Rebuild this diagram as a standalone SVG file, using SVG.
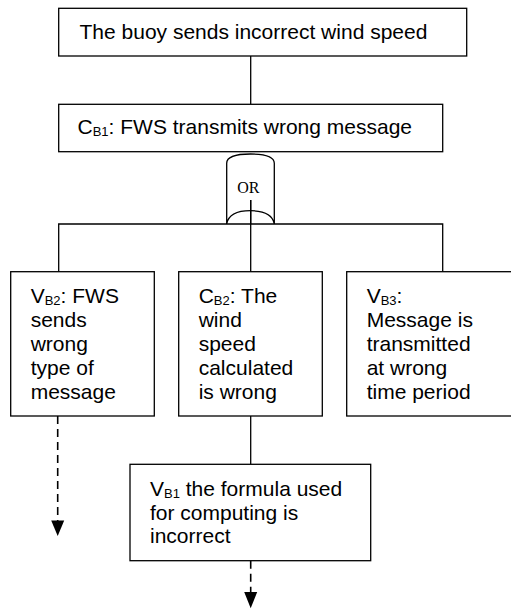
<svg xmlns="http://www.w3.org/2000/svg" width="511" height="611" viewBox="0 0 511 611">
<style>
.box{fill:#fff;stroke:#000;stroke-width:1.3}
.ln{fill:none;stroke:#000;stroke-width:1.3}
.dash{fill:none;stroke:#000;stroke-width:1.6;stroke-dasharray:8 5}
.t{font-family:"Liberation Sans",Arial,sans-serif;font-size:21px;fill:#000}
.sub{font-size:13px}
.or{font-family:"Liberation Serif","Times New Roman",serif;font-size:16px;fill:#000}
.ah{fill:#000}
</style>
<rect width="511" height="611" fill="#fff"/>
<g id="connectors">
<line class="ln" x1="250.7" y1="56" x2="250.7" y2="104.3"/>
<line class="ln" x1="250.7" y1="200" x2="250.7" y2="271.7"/>
<polyline class="ln" points="58.7,271.7 58.7,224 442.7,224 442.7,271.7"/>
<line class="ln" x1="250.7" y1="416" x2="250.7" y2="464.3"/>
<line class="dash" x1="57.7" y1="416" x2="57.7" y2="522"/>
<polygon class="ah" points="51.2,520.5 64.2,520.5 57.7,536"/>
<line class="dash" x1="250.7" y1="560.7" x2="250.7" y2="593"/>
<polygon class="ah" points="244.2,592 257.2,592 250.7,608.3"/>
</g>
<g id="top">
<rect class="box" x="58.7" y="8.3" width="408" height="47.7"/>
<text class="t" x="79.5" y="38.5">The buoy sends incorrect wind speed</text>
</g>
<g id="cb1">
<rect class="box" x="58.7" y="104.3" width="384" height="47.4"/>
<text class="t" x="77.5" y="134">C<tspan class="sub" dy="1.5">B1</tspan><tspan dy="-1.5">: FWS transmits wrong message</tspan></text>
</g>
<g id="or-gate">
<path class="ln" d="M226.7,224 L226.7,163.3 Q226.7,154 250.5,154 Q274.3,154 274.3,163.3 L274.3,224 Q272,210.7 250.5,210.7 Q229,210.7 226.7,224 Z" fill="#fff"/>
<line class="ln" x1="250.7" y1="200" x2="250.7" y2="224"/>
<text class="or" x="248.3" y="193.3" text-anchor="middle">OR</text>
</g>
<g id="vb2">
<rect class="box" x="10.7" y="271.7" width="143.6" height="144.3"/>
<text class="t" x="30.7" y="303">V<tspan class="sub" dy="1.5">B2</tspan><tspan dy="-1.5">: FWS</tspan></text>
<text class="t" x="30.7" y="327">sends</text>
<text class="t" x="30.7" y="351">wrong</text>
<text class="t" x="30.7" y="375">type of</text>
<text class="t" x="30.7" y="399">message</text>
</g>
<g id="cb2">
<rect class="box" x="178.7" y="271.7" width="143.6" height="144.3"/>
<text class="t" x="198.7" y="303">C<tspan class="sub" dy="1.5">B2</tspan><tspan dy="-1.5">: The</tspan></text>
<text class="t" x="198.7" y="327">wind</text>
<text class="t" x="198.7" y="351">speed</text>
<text class="t" x="198.7" y="375">calculated</text>
<text class="t" x="198.7" y="399">is wrong</text>
</g>
<g id="vb3">
<rect class="box" x="346.7" y="271.7" width="170" height="144.3"/>
<text class="t" x="366.7" y="303">V<tspan class="sub" dy="1.5">B3</tspan><tspan dy="-1.5">:</tspan></text>
<text class="t" x="366.7" y="327">Message is</text>
<text class="t" x="366.7" y="351">transmitted</text>
<text class="t" x="366.7" y="375">at wrong</text>
<text class="t" x="366.7" y="399">time period</text>
</g>
<g id="vb1">
<rect class="box" x="130" y="464.3" width="240.7" height="96.4"/>
<text class="t" x="150" y="496">V<tspan class="sub" dy="1.5">B1</tspan><tspan dy="-1.5"> the formula used</tspan></text>
<text class="t" x="150" y="519.5">for computing is</text>
<text class="t" x="150" y="543">incorrect</text>
</g>
</svg>
